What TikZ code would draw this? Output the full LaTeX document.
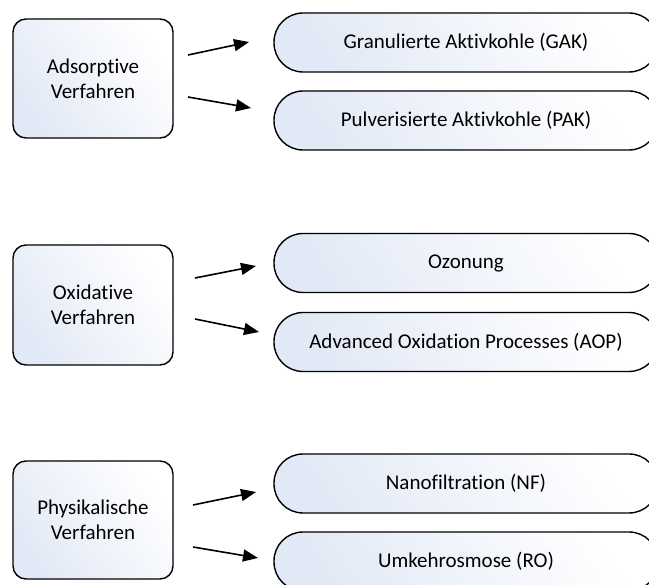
\documentclass[tikz,border=0pt]{standalone}
\usepackage{fontspec}
\setmainfont{Carlito}[Ligatures=NoCommon]
\usetikzlibrary{arrows.meta}
\definecolor{paleblue}{HTML}{E2E9F6}
\tikzset{
  shadefill/.style={left color=paleblue, right color=white, shading angle=125},
  groupbox/.style={draw=black, line width=1.4pt, rounded corners=13pt, shadefill,
    minimum width=160pt, align=center, font=\fontsize{21}{25}\selectfont, inner sep=0pt},
  methodbox/.style={draw=black, line width=1.4pt, rounded corners=29pt, shadefill,
    minimum width=384pt, minimum height=59pt, font=\fontsize{21}{25}\selectfont, inner sep=0pt},
  flow/.style={line width=1.6pt, -{Triangle[length=15pt,width=12pt]}}
}
\begin{document}
\begin{tikzpicture}[x=1pt, y=-1pt]
\useasboundingbox (0,0) rectangle (649,585);
\fill[white] (0,0) rectangle (649,585);
\begin{scope}
\clip (0,0) rectangle (649,585);

% Adsorptive Verfahren
\node[groupbox, minimum height=119pt] (ads) at (93,78.5) {Adsorptive\\Verfahren};
\node[methodbox] (gak) at (466,42.5) {Granulierte Aktivkohle (GAK)};
\node[methodbox] (pak) at (466,120.5) {Pulverisierte Aktivkohle (PAK)};
\coordinate (a1s) at (188,55);  \coordinate (a1e) at (249,42);
\coordinate (a2s) at (188,97);  \coordinate (a2e) at (251,108);
\draw[flow] (a1s) -- (a1e);
\draw[flow] (a2s) -- (a2e);

% Oxidative Verfahren
\node[groupbox, minimum height=120pt] (oxi) at (93,305) {Oxidative\\Verfahren};
\node[methodbox] (ozo) at (466,263) {Ozonung};
\node[methodbox] (aop) at (466,342) {Advanced Oxidation Processes (AOP)};
\coordinate (b1s) at (195,278); \coordinate (b1e) at (256,266);
\coordinate (b2s) at (195,319); \coordinate (b2e) at (259,332);
\draw[flow] (b1s) -- (b1e);
\draw[flow] (b2s) -- (b2e);

% Physikalische Verfahren
\node[groupbox, minimum height=118pt] (phy) at (93,520) {Physikalische\\Verfahren};
\node[methodbox] (nf) at (466,483.5) {Nanofiltration (NF)};
\node[methodbox] (ro) at (466,561.5) {Umkehrosmose (RO)};
\coordinate (c1s) at (193,505); \coordinate (c1e) at (256,492);
\coordinate (c2s) at (193,547); \coordinate (c2e) at (258,558);
\draw[flow] (c1s) -- (c1e);
\draw[flow] (c2s) -- (c2e);
\end{scope}
\end{tikzpicture}
\end{document}
